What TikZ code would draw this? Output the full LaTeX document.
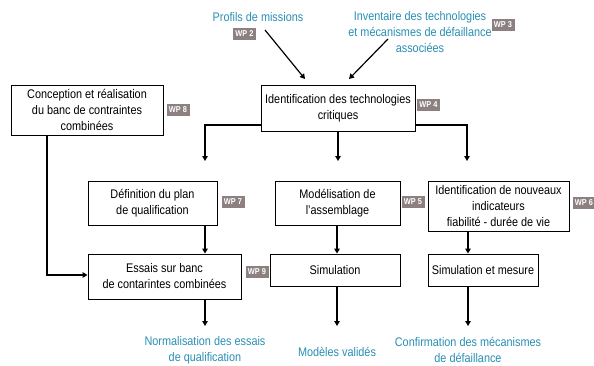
\documentclass[tikz,border=0pt]{standalone}
\usepackage{fontspec}
\setmainfont{Liberation Sans}[FakeStretch=0.87]
\usetikzlibrary{arrows.meta}
\definecolor{wpgray}{RGB}{140,128,128}
\definecolor{outblue}{RGB}{42,144,180}
\begin{document}
\begin{tikzpicture}[x=1pt,y=-1pt,
  box/.style={draw=black,line width=0.9pt,fill=white,align=center,inner sep=2pt,
    font=\fontsize{12.5}{16}\selectfont},
  wp/.style={fill=wpgray,text=white,font=\fontsize{8.5}{9}\selectfont\bfseries,
    minimum width=23pt,minimum height=12pt,inner sep=0pt},
  outtxt/.style={text=outblue,align=center,font=\fontsize{12.5}{16}\selectfont},
  arr/.style={line width=1.2pt,-{Triangle[width=5.5pt,length=5pt]}},
  ]
\useasboundingbox (0,0) rectangle (594,365);
\fill[white] (0,0) rectangle (594,365);
% boxes
\node[box,minimum width=152pt,minimum height=50pt] (conc) at (87,110) {Conception et réalisation\\du banc de contraintes\\combinées};
\node[box,minimum width=154pt,minimum height=46pt] (ident) at (338,108) {Identification des technologies\\critiques};
\node[box,minimum width=129pt,minimum height=44pt] (def) at (152.5,203) {Définition du plan\\de qualification};
\node[box,minimum width=153pt,minimum height=45pt] (ess) at (164.5,276.5) {Essais sur banc\\de contarintes combinées};
\node[box,minimum width=125pt,minimum height=44pt] (mod) at (337.5,203) {Modélisation de\\l'assemblage};
\node[box,minimum width=130pt,minimum height=32pt] (sim) at (335,270) {Simulation};
\node[box,minimum width=141pt,minimum height=50pt] (ind) at (498.5,206) {Identification de nouveaux\\indicateurs\\fiabilité - durée de vie};
\node[box,minimum width=110pt,minimum height=32pt] (simm) at (483,270) {Simulation et mesure};
% WP badges
\node[wp] (wp2) at (244.5,33.5) {WP 2};
\node[wp] (wp3) at (503,25) {WP 3};
\node[wp] (wp4) at (428.5,104.5) {WP 4};
\node[wp] (wp8) at (178,110) {WP 8};
\node[wp] (wp7) at (233,202) {WP 7};
\node[wp] (wp9) at (257,272) {WP 9};
\node[wp] (wp5) at (413,202) {WP 5};
\node[wp] (wp6) at (584,203) {WP 6};
% blue texts
\node[outtxt] (prof) at (258,17) {Profils de missions};
\node[outtxt] (inv) at (420,32) {Inventaire des technologies\\et mécanismes de défaillance\\associées};
\node[outtxt] (norm) at (205,350) {Normalisation des essais\\de qualification};
\node[outtxt] (modv) at (337,352) {Modèles validés};
\node[outtxt] (conf) at (468,350) {Confirmation des mécanismes\\de défaillance};
% free ends
\coordinate (p1) at (265,30);
\coordinate (p2) at (305,79);
\coordinate (i1) at (388,39);
\coordinate (i2) at (349,79);
\coordinate (bl) at (205,161);
\coordinate (bm) at (338,161);
\coordinate (br) at (467,161);
\coordinate (en) at (205,326);
\coordinate (em) at (337,326);
\coordinate (er) at (468,326);
% connectors
\draw[arr] (p1) -- (p2);
\draw[arr] (i1) -- (i2);
\draw[arr] (ident.west |- 0,125) -| (bl);
\draw[arr] (ident.south -| bm) -- (bm);
\draw[arr] (ident.east |- 0,125) -| (br);
\draw[arr] (def.south -| 205,0) -- (ess.north -| 205,0);
\draw[arr] (ess.south -| en) -- (en);
\draw[arr] (mod.south -| 337,0) -- (sim.north -| 337,0);
\draw[arr] (sim.south -| em) -- (em);
\draw[arr] (ind.south -| 468,0) -- (simm.north -| 468,0);
\draw[arr] (simm.south -| er) -- (er);
\draw[arr] (conc.south -| 47,0) |- (ess.west |- 0,275);
\end{tikzpicture}
\end{document}
